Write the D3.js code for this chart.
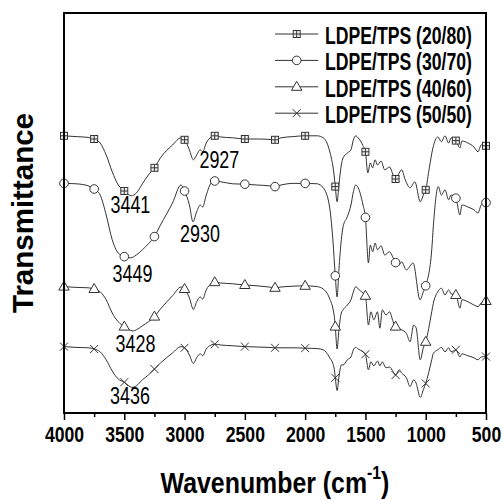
<!DOCTYPE html>
<html>
<head>
<meta charset="utf-8">
<script src="https://cdn.jsdelivr.net/npm/d3@7"></script>
<style>
  body { margin: 0; background: #fff; }
  svg { display: block; }
</style>
</head>
<body>
<div class="graphic"></div>
<script>
// FTIR spectra, transmittance in arbitrary units (curves offset)
var ldpe2080 = [[4000,69.3],[3900,69.1],[3800,68.9],[3750,68.5],[3700,67.5],[3650,64.5],[3600,60.3],[3550,57.0],[3500,55.5],[3441,54.3],[3400,55.0],[3350,57.3],[3300,59.5],[3250,61.3],[3200,63.8],[3100,67.0],[3030,68.8],[3000,68.3],[2960,65.8],[2927,63.3],[2900,64.5],[2870,65.8],[2850,65.3],[2820,67.5],[2780,69.0],[2750,69.3],[2700,69.0],[2600,68.8],[2500,68.5],[2400,68.5],[2300,68.4],[2250,68.3],[2200,68.8],[2100,69.1],[2000,69.3],[1900,69.3],[1850,68.8],[1800,65.8],[1760,59.5],[1750,56.6],[1735,52.8],[1720,57.0],[1700,62.0],[1685,63.8],[1650,65.0],[1620,65.8],[1600,68.3],[1580,69.3],[1560,68.8],[1520,66.8],[1500,65.3],[1480,60.0],[1460,62.5],[1440,61.3],[1420,63.3],[1400,62.0],[1370,63.0],[1340,60.8],[1300,61.5],[1270,59.5],[1250,58.5],[1220,60.0],[1200,60.8],[1170,58.3],[1130,56.3],[1090,57.8],[1045,52.8],[1020,54.5],[1000,55.8],[970,61.3],[940,66.3],[900,69.0],[870,67.8],[840,69.3],[810,67.5],[790,68.8],[750,68.1],[716,66.3],[700,68.0],[650,67.5],[600,66.5],[566,65.3],[540,67.0],[500,66.8]];

var ldpe3070 = [[4000,57.4],[3900,57.3],[3800,56.8],[3750,56.0],[3700,54.5],[3650,49.5],[3600,43.3],[3550,40.0],[3500,39.1],[3449,38.8],[3400,39.5],[3350,40.8],[3300,42.3],[3250,44.1],[3200,47.0],[3100,52.5],[3030,57.0],[3000,55.5],[2960,52.0],[2930,47.8],[2900,50.3],[2870,52.0],[2850,51.5],[2820,54.5],[2780,57.5],[2750,58.0],[2700,57.8],[2600,57.3],[2500,57.2],[2400,57.0],[2300,56.8],[2250,56.6],[2200,57.0],[2100,57.4],[2000,57.4],[1900,57.3],[1850,56.3],[1800,52.0],[1770,43.3],[1750,34.3],[1735,29.0],[1720,35.8],[1700,43.3],[1685,46.6],[1650,49.1],[1620,52.0],[1600,55.3],[1580,57.0],[1560,56.3],[1520,52.0],[1500,48.9],[1475,37.5],[1460,42.0],[1440,40.3],[1420,42.5],[1400,40.8],[1370,41.8],[1340,39.5],[1300,40.3],[1270,38.8],[1250,37.6],[1220,37.0],[1200,37.8],[1160,35.8],[1105,37.5],[1047,28.3],[1020,30.3],[1000,31.8],[950,40.8],[937,46.6],[896,56.6],[870,54.5],[840,55.8],[810,53.3],[790,54.5],[750,53.7],[716,49.5],[700,52.0],[650,51.5],[600,50.8],[566,50.0],[540,52.0],[500,52.6]];

var ldpe4060 = [[4000,31.6],[3900,31.4],[3800,31.3],[3750,31.0],[3700,30.3],[3650,28.3],[3600,25.0],[3550,22.8],[3500,21.6],[3428,20.5],[3400,20.8],[3350,21.8],[3300,22.8],[3250,24.1],[3200,26.0],[3100,29.3],[3030,31.5],[3000,31.0],[2960,28.8],[2927,25.9],[2900,27.8],[2870,29.0],[2850,28.5],[2820,30.8],[2780,32.3],[2750,32.7],[2700,32.5],[2600,32.3],[2500,32.0],[2400,31.8],[2300,31.5],[2250,31.3],[2200,31.5],[2100,31.7],[2000,31.8],[1900,31.6],[1850,31.0],[1800,28.8],[1760,24.5],[1750,21.6],[1735,16.0],[1720,20.8],[1700,25.0],[1685,25.8],[1650,27.0],[1620,28.3],[1600,30.3],[1580,31.6],[1560,31.0],[1520,30.0],[1500,29.3],[1475,22.0],[1455,25.3],[1430,23.3],[1400,25.3],[1380,21.2],[1360,25.8],[1330,24.5],[1300,25.3],[1270,22.8],[1250,21.6],[1200,20.8],[1160,19.9],[1130,17.8],[1100,22.0],[1080,21.3],[1045,13.3],[1020,16.3],[1000,17.8],[950,25.3],[937,27.4],[900,30.3],[870,31.2],[840,29.5],[810,30.8],[790,29.8],[750,29.5],[716,26.2],[700,28.3],[650,27.8],[600,27.0],[566,26.6],[540,27.5],[500,28.0]];

var ldpe5050 = [[4000,16.6],[3900,16.4],[3800,16.3],[3750,16.0],[3700,15.3],[3650,13.3],[3600,10.5],[3550,8.5],[3500,7.7],[3436,6.4],[3400,6.8],[3350,8.3],[3300,9.5],[3250,11.0],[3200,12.5],[3100,15.0],[3030,16.6],[3000,16.3],[2960,14.5],[2927,12.4],[2900,13.8],[2870,14.8],[2850,14.3],[2820,16.0],[2780,17.0],[2750,17.2],[2700,17.0],[2600,16.8],[2500,16.6],[2400,16.5],[2300,16.4],[2250,16.3],[2200,16.3],[2100,16.3],[2000,16.2],[1900,16.1],[1850,15.8],[1800,14.0],[1760,11.3],[1750,8.8],[1735,5.6],[1720,9.0],[1700,12.0],[1685,12.0],[1650,13.3],[1620,14.0],[1600,15.8],[1580,16.4],[1560,16.0],[1520,15.3],[1500,14.7],[1475,10.8],[1455,12.8],[1430,11.8],[1400,13.0],[1380,11.8],[1360,12.8],[1330,11.3],[1300,11.5],[1270,10.3],[1250,9.5],[1220,10.8],[1200,10.0],[1160,8.8],[1130,6.6],[1100,8.3],[1080,7.5],[1045,3.9],[1020,5.8],[1000,7.4],[950,13.3],[937,14.9],[900,15.8],[870,16.4],[840,15.3],[810,16.3],[790,15.3],[750,15.8],[716,14.0],[700,14.8],[650,14.3],[600,13.8],[566,13.3],[540,14.0],[500,14.1]];

var seriesNames = ["LDPE/TPS (20/80)", "LDPE/TPS (30/70)", "LDPE/TPS (40/60)", "LDPE/TPS (50/50)"];
var seriesData = [ldpe2080, ldpe3070, ldpe4060, ldpe5050];
var seriesSymbols = ["squarePlus", "circle", "triangle", "cross"];

var xTicks = [4000, 3500, 3000, 2500, 2000, 1500, 1000, 500];
var xMinorTicks = [3750, 3250, 2750, 2250, 1750, 1250, 750];

// labelled peaks: series index, wavenumber
var peakSeries = [0, 0, 1, 1, 2, 3];
var peakWaves = [3441, 2927, 3449, 2930, 3428, 3436];
// where the labels sit relative to the peak
var peakOffsets = [[-1,17],[26,8],[2,24],[7,20],[2.5,21],[-2,17]];

var svg_width = 503, svg_height = 500;
var margin = {top: 13, right: 17, bottom: 87, left: 64};
var lineColor = "#333";

var svg = d3.select(".graphic")
	.append("svg")
	.attr("width", svg_width)
	.attr("height", svg_height)

var x = d3.scaleLinear().domain([4000, 500]).range([margin.left, svg_width - margin.right]);
var y = d3.scaleLinear().domain([0, 100]).range([svg_height - margin.bottom, margin.top]);

// text squeezed horizontally, the original uses a narrow font
function narrowText(parent, px, py, str, size, weight, sx, anchor) {
  return parent.append("g")
    .attr("transform", "translate(" + px + "," + py + ") scale(" + sx + ",1)")
    .append("text")
    .attr("text-anchor", anchor)
    .attr("font-family", "'Liberation Sans', Arial, sans-serif")
    .attr("font-size", size + "px")
    .attr("font-weight", weight)
    .attr("fill", "#000")
    .text(str);
}

function drawSymbol(g, type) {
  g.attr("fill", "#fff").attr("stroke", lineColor).attr("stroke-width", 1);
  if (type == "squarePlus") {
    g.append("rect").attr("x", -3.5).attr("y", -3.5).attr("width", 7).attr("height", 7).attr("fill", "#eee");
    g.append("path").attr("d", "M-3.5,0H3.5M0,-3.5V3.5");
  } else if (type == "circle") {
    g.append("circle").attr("r", 4.3);
  } else if (type == "triangle") {
    g.append("path").attr("d", "M0,-5.5L5.2,3.5L-5.2,3.5Z");
  } else {
    g.append("path").attr("d", "M-4,-4L4,4M-4,4L4,-4");
  }
}

var line = d3.line()
  .x(function(d){ return x(d[0]); })
  .y(function(d){ return y(d[1]); })
  .curve(d3.curveMonotoneX);

// Curves
seriesData.forEach(function(data, i) {
  svg.append("path")
    .attr("d", line(data))
    .attr("fill", "none")
    .attr("stroke", lineColor)
    .attr("stroke-width", 1);

  data.filter(function(d){ return d[0] % 250 == 0; }).forEach(function(d) {
    var g = svg.append("g").attr("transform", "translate(" + x(d[0]) + "," + y(d[1]) + ")");
    drawSymbol(g, seriesSymbols[i]);
  });
});

// Peak labels
peakWaves.forEach(function(w, i) {
  var pt = seriesData[peakSeries[i]].find(function(d){ return d[0] == w; });
  narrowText(svg, x(w) + peakOffsets[i][0], y(pt[1]) + peakOffsets[i][1], String(w), 23, "normal", 0.78, "middle");
});

// Frame
svg.append("rect")
  .attr("x", margin.left)
  .attr("y", margin.top)
  .attr("width", svg_width - margin.left - margin.right)
  .attr("height", svg_height - margin.top - margin.bottom)
  .attr("fill", "none")
  .attr("stroke", "#000")
  .attr("stroke-width", 2);

// Axis
var xAxis = svg.append("g")
  .attr("transform", "translate(0," + (svg_height - margin.bottom) + ")")
  .call(d3.axisBottom(x).tickValues(xTicks).tickSizeInner(7).tickSizeOuter(0).tickFormat(d3.format("d")));
xAxis.select(".domain").remove();
xAxis.selectAll("line").attr("stroke", "#000").attr("stroke-width", 1.5);
xAxis.selectAll("text")
  .attr("y", 29).attr("dy", 0)
  .attr("transform", "scale(0.8,1)")
  .attr("font-family", "'Liberation Sans', Arial, sans-serif")
  .attr("font-size", "22px")
  .attr("font-weight", "bold")
  .attr("fill", "#000");

var xMinor = svg.append("g")
  .attr("transform", "translate(0," + (svg_height - margin.bottom) + ")")
  .call(d3.axisBottom(x).tickValues(xMinorTicks).tickSizeInner(4).tickSizeOuter(0).tickFormat(""));
xMinor.select(".domain").remove();
xMinor.selectAll("line").attr("stroke", "#000").attr("stroke-width", 1.5);

// Axis titles
var xt = narrowText(svg, (margin.left + svg_width - margin.right) / 2, 493, "", 30, "bold", 0.83, "middle");
xt.append("tspan").text("Wavenumber (cm");
xt.append("tspan").attr("font-size", "19px").attr("dy", -14).text("-1");
xt.append("tspan").attr("dy", 14).text(")");

svg.append("g")
  .attr("transform", "translate(33.3," + ((margin.top + svg_height - margin.bottom) / 2) + ") rotate(-90)")
  .append("text")
  .attr("text-anchor", "middle")
  .attr("font-family", "'Liberation Sans', Arial, sans-serif")
  .attr("font-size", "29.5px")
  .attr("font-weight", "bold")
  .text("Transmittance");

// Legend
var legend = svg.append("g");
seriesNames.forEach(function(name, i) {
  var ly = 34 + i * 26.4;
  legend.append("line")
    .attr("x1", 275).attr("x2", 318.3)
    .attr("y1", ly).attr("y2", ly)
    .attr("stroke", lineColor).attr("stroke-width", 1);
  var g = legend.append("g").attr("transform", "translate(296.7," + ly + ")");
  drawSymbol(g, seriesSymbols[i]);
  narrowText(legend, 325, ly + 10, name, 23.5, "bold", 0.75, "start");
});
</script>
</body>
</html>
